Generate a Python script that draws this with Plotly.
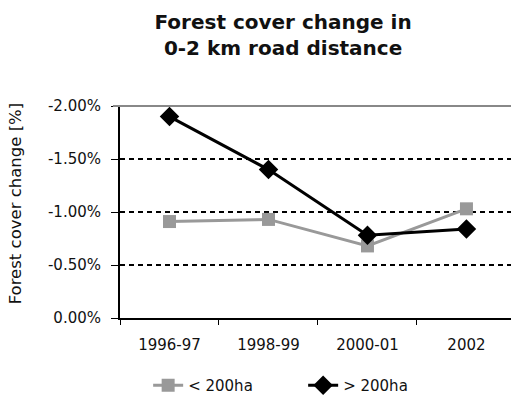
import plotly.graph_objects as go

categories = ["1996-97", "1998-99", "2000-01", "2002"]
small_vals = [-0.0091, -0.0093, -0.0068, -0.0103]
large_vals = [-0.0190, -0.0140, -0.0078, -0.0084]
y_ticks = [0, -0.005, -0.010, -0.015, -0.020]
y_ticktext = ["%.2f%%" % (v * 100) if v != 0 else "0.00%" for v in y_ticks]

FONT = "DejaVu Sans"

fig = go.Figure()
fig.add_trace(go.Scatter(
    x=categories, y=small_vals, name="< 200ha", mode="lines+markers",
    line=dict(color="#999999", width=3),
    marker=dict(symbol="square", size=13, color="#999999"),
))
fig.add_trace(go.Scatter(
    x=categories, y=large_vals, name="> 200ha", mode="lines+markers",
    line=dict(color="#000000", width=3),
    marker=dict(symbol="diamond", size=15, color="#000000"),
))

# top frame line
fig.add_shape(type="line", xref="paper", yref="paper", x0=-0.018, x1=1, y0=1, y1=1,
              line=dict(color="#888888", width=2), layer="above")

fig.add_annotation(text="Forest cover change [%]", xref="paper", yref="paper",
                   x=-0.268, y=0.542, textangle=-90, showarrow=False,
                   xanchor="center", yanchor="middle",
                   font=dict(family=FONT, size=16.5, color="#111111"))

fig.update_layout(
    width=511, height=402,
    margin=dict(l=120, r=0, t=106, b=84),
    paper_bgcolor="white", plot_bgcolor="white",
    font=dict(family=FONT, size=15, color="#111111"),
    title=dict(text="<b>Forest cover change in<br>0-2 km road distance</b>",
               x=0.554, xanchor="center", y=0.927, yanchor="middle",
               font=dict(family=FONT, size=20, color="#111111")),
    showlegend=True,
    legend=dict(orientation="h", x=0.072, xanchor="left",
                yref="container", y=-0.015, yanchor="bottom",
                font=dict(family=FONT, size=15), entrywidth=110,
                entrywidthmode="pixels", bgcolor="rgba(0,0,0,0)"),
    xaxis=dict(type="category", range=[-0.5, 3.45], showline=True, linecolor="black",
               linewidth=2, ticks="outside", tickson="boundaries", ticklen=5,
               tickcolor="black", showgrid=False, tickfont=dict(size=15),
               ticklabelstandoff=12, fixedrange=True, automargin=False),
    yaxis=dict(range=[0, -0.02], tickvals=y_ticks, ticktext=y_ticktext,
               showline=True, linecolor="black", linewidth=2, ticks="outside",
               ticklen=7, tickcolor="black", showgrid=True, gridcolor="black",
               griddash="5px,4px", gridwidth=1.5, zeroline=False,
               ticklabelstandoff=7, automargin=False, tickfont=dict(size=15)),
)

fig.write_html("out.html", config={"displayModeBar": False},
               post_script="document.body.style.margin='0';document.body.style.overflow='hidden';")
